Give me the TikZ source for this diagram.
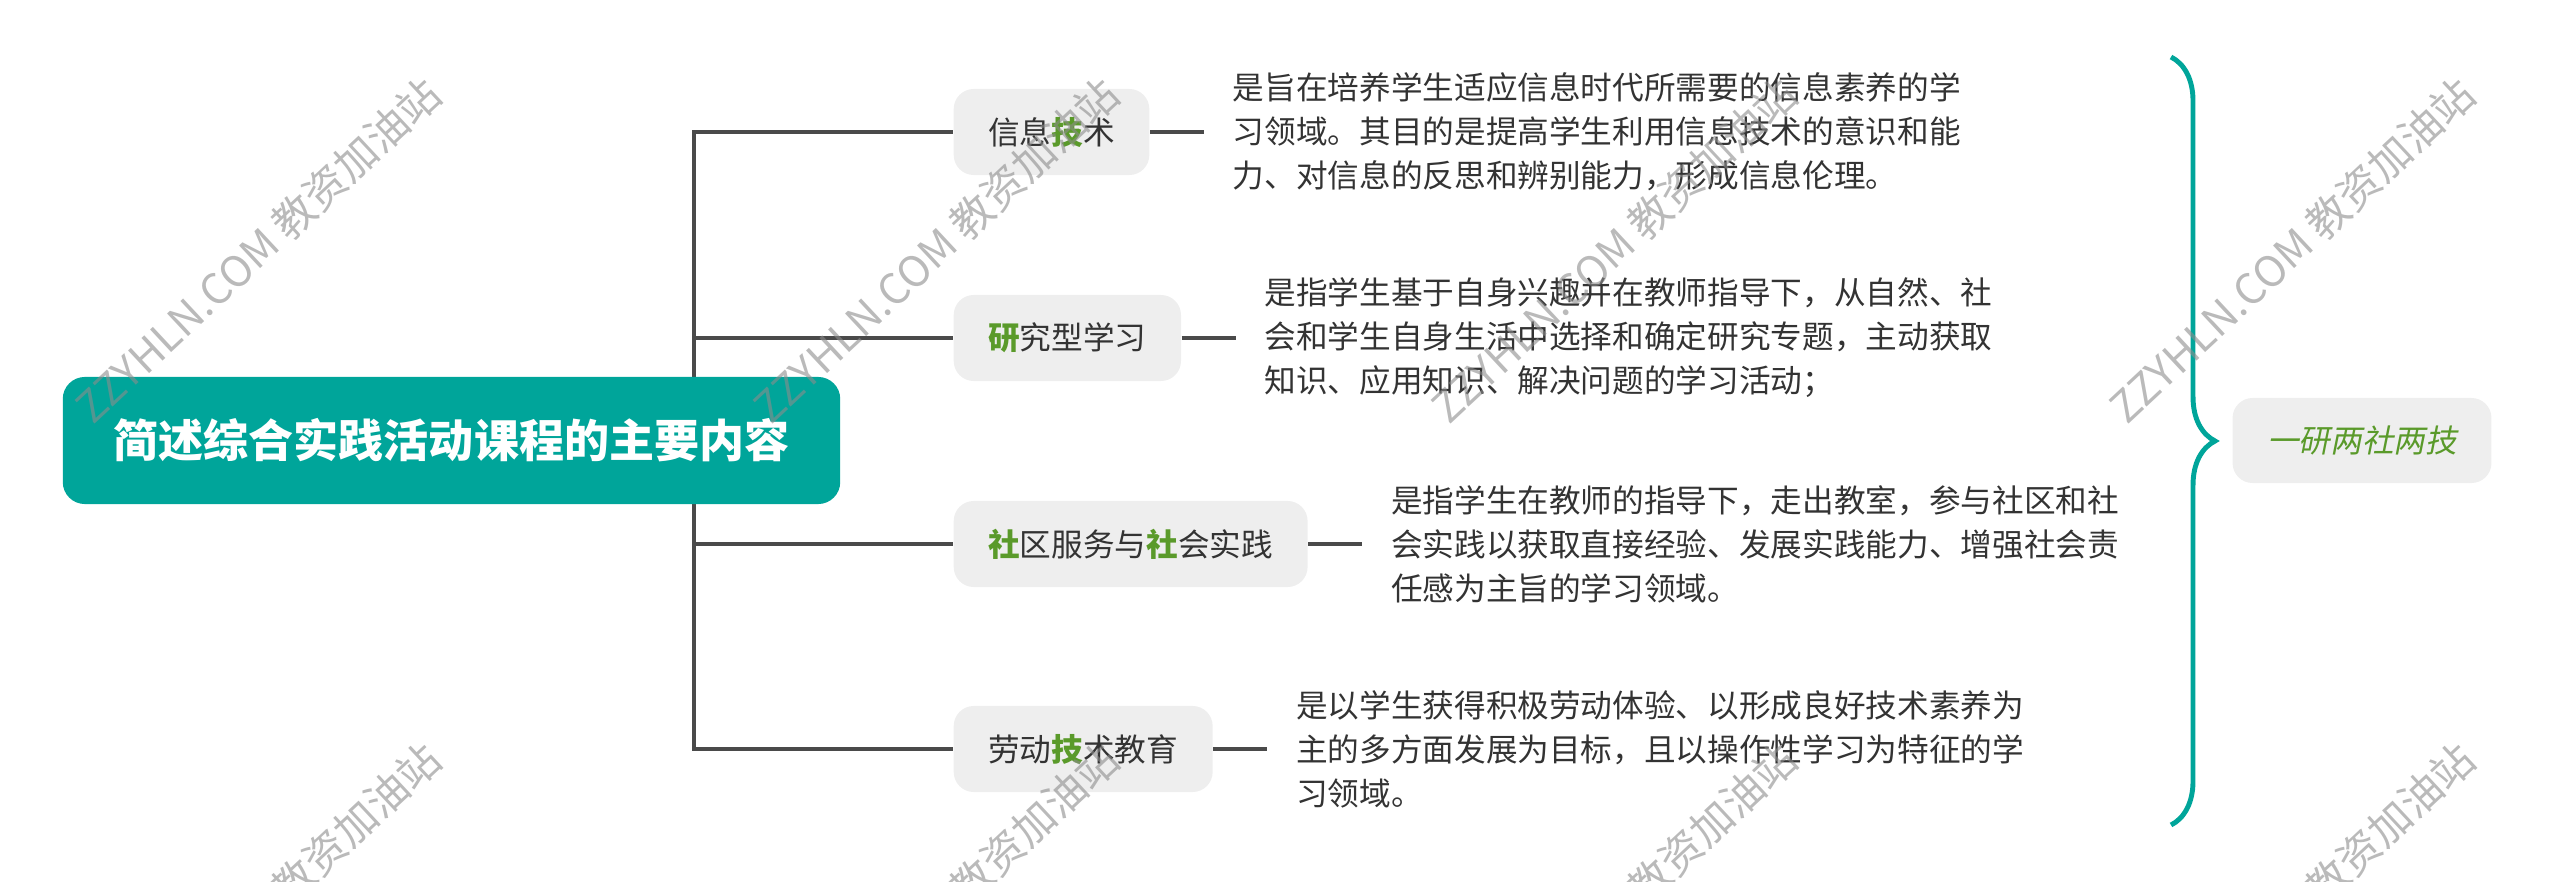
\documentclass[tikz,border=0pt]{standalone}
\usepackage{fontspec}
\setmainfont{Noto Sans CJK SC}
\newfontfamily\slfont[FakeSlant=0.2]{Noto Sans CJK SC}
\usetikzlibrary{positioning,backgrounds,decorations.pathreplacing}

\definecolor{teal1}{HTML}{00A59A}
\definecolor{leaf}{HTML}{5A9A2A}
\definecolor{ink}{HTML}{333333}
\definecolor{linegray}{HTML}{4A4A4A}
\definecolor{pill}{HTML}{EEEEEE}
\newcommand{\hl}[1]{\textcolor{leaf}{\bfseries #1}}

\begin{document}
\begin{tikzpicture}[x=0.01cm,y=-0.01cm,
  rootbox/.style={fill=teal1,rounded corners=0.22cm,text=white,font=\fontsize{12.8}{15}\selectfont\bfseries,minimum width=7.77cm,minimum height=1.27cm},
  topicbox/.style={fill=pill,rounded corners=0.2cm,text=ink,font=\fontsize{9}{11}\selectfont,minimum height=0.86cm,inner xsep=0.345cm,anchor=west},
  desc/.style={text=ink,font=\fontsize{9}{12.5}\selectfont,align=left,anchor=west,inner sep=0pt},
  wire/.style={draw=linegray,line width=1.3pt},
  stamp/.style={text=black!45,opacity=0.6,rotate=43,font=\fontsize{12}{14}\selectfont}]

\useasboundingbox (0,0) rectangle (2560,882);

\node[rootbox] (root) at (451.5,440.5) {简述综合实践活动课程的主要内容};
\coordinate (hub) at (694,440.5);

\node[topicbox] (t1) at (953,132) {信息\hl{技}术};
\node[topicbox] (t2) at (953,338) {\hl{研}究型学习};
\node[topicbox] (t3) at (953,544) {\hl{社}区服务与\hl{社}会实践};
\node[topicbox] (t4) at (953,749) {劳动\hl{技}术教育};

\node[desc,right=0.82cm of t1] (d1) {是旨在培养学生适应信息时代所需要的信息素养的学\\习领域。其目的是提高学生利用信息技术的意识和能\\力、对信息的反思和辨别能力，形成信息伦理。};
\node[desc,right=0.82cm of t2] (d2) {是指学生基于自身兴趣并在教师指导下，从自然、社\\会和学生自身生活中选择和确定研究专题，主动获取\\知识、应用知识、解决问题的学习活动；};
\node[desc,right=0.82cm of t3] (d3) {是指学生在教师的指导下，走出教室，参与社区和社\\会实践以获取直接经验、发展实践能力、增强社会责\\任感为主旨的学习领域。};
\node[desc,right=0.82cm of t4] (d4) {是以学生获得积极劳动体验、以形成良好技术素养为\\主的多方面发展为目标，且以操作性学习为特征的学\\习领域。};

\begin{scope}[on background layer]
\foreach \i in {1,...,4}{
  \draw[wire] (hub) |- (t\i.west);
  \draw[wire] (t\i.east) -- ([xshift=-0.28cm]d\i.west);
}
\end{scope}

% summary
\coordinate (btop) at (2171,57);
\coordinate (bbot) at (2171,825);
\draw[teal1,line width=1.4pt,decorate,decoration={brace,amplitude=0.44cm}] (btop) -- (bbot);
\node[topicbox,anchor=center,text=leaf,font=\fontsize{9}{11}\selectfont\slfont,minimum width=2.57cm,minimum height=0.85cm] (sum) at (2362,440.5) {一研两社两技};

% watermark
\begin{scope}
\clip (0,0) rectangle (2560,882);
\foreach \cx in {258,936,1614,2292}{
  \foreach \cy in {250,915}{
    \node[stamp] (wm\cx\cy) at (\cx,\cy) {ZZYHLN.COM 教资加油站};
  }
}
\end{scope}

\end{tikzpicture}
\end{document}
